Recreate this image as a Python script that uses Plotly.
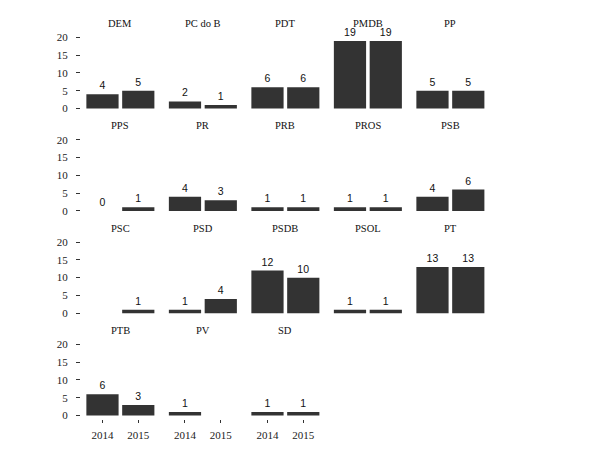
import plotly.graph_objects as go

parties = ["DEM", "PC do B", "PDT", "PMDB", "PP", "PPS", "PR", "PRB", "PROS", "PSB",
           "PSC", "PSD", "PSDB", "PSOL", "PT", "PTB", "PV", "SD"]
years = ["2014", "2015"]
v2014 = [4, 2, 6, 19, 5, 0, 4, 1, 1, 4, None, 1, 12, 1, 13, 6, 1, 1]
v2015 = [5, 1, 6, 19, 5, 1, 3, 1, 1, 6, 1, 4, 10, 1, 13, 3, None, 1]
yticks = [0, 5, 10, 15, 20]

W, H = 602, 453
NCOL = 5
row_zero = [106.7, 210.2, 313.7, 417.2]
px_per_unit = 3.6
yr = [-1, 21]
col_left0 = 81.0
col_pitch = 82.5
band = 35.8
xr = [-0.6, 1.6]

fig = go.Figure()
layout = dict(width=W, height=H, margin=dict(l=0, r=0, t=0, b=0),
              paper_bgcolor="white", plot_bgcolor="white", showlegend=False,
              bargap=0.1, annotations=[])

serif = "Liberation Serif"
for i, p in enumerate(parties):
    r, c = divmod(i, NCOL)
    k = i + 1
    xa = "x" if k == 1 else f"x{k}"
    ya = "y" if k == 1 else f"y{k}"
    left = col_left0 + col_pitch * c
    right = left + band * (xr[1] - xr[0])
    y0 = row_zero[r]
    bottom = y0 + (0 - yr[0]) * px_per_unit
    top = y0 - (yr[1]) * px_per_unit
    vals = [v2014[i], v2015[i]]
    txt = ["" if v is None else str(v) for v in vals]
    fig.add_trace(go.Bar(x=years, y=vals, text=txt, textposition="outside",
                         cliponaxis=False, constraintext="none",
                         textfont=dict(family="Liberation Sans", size=10.5, color="#111"),
                         marker=dict(color="#333333", line=dict(width=0)),
                         xaxis=xa, yaxis=ya, hoverinfo="skip"))
    bottom_row = (r == 3)
    layout["xaxis" if k == 1 else f"xaxis{k}"] = dict(
        domain=[left / W, right / W], anchor=ya, type="category",
        categoryorder="array", categoryarray=years, range=xr,
        showgrid=False, zeroline=False, showline=False,
        showticklabels=bottom_row, ticks="outside" if bottom_row else "",
        ticklen=3, tickcolor="#333", tickwidth=1, ticklabelstandoff=3,
        tickfont=dict(family=serif, size=11, color="#222"), fixedrange=True)
    first_col = (c == 0)
    layout["yaxis" if k == 1 else f"yaxis{k}"] = dict(
        domain=[1 - bottom / H, 1 - top / H], anchor=xa, range=yr,
        tickvals=yticks, showgrid=False, zeroline=False, showline=False,
        showticklabels=first_col, ticks="outside" if first_col else "",
        ticklen=4, tickcolor="#333", tickwidth=1, ticklabelstandoff=6,
        tickfont=dict(family=serif, size=11, color="#222"), fixedrange=True)
    layout["annotations"].append(dict(
        text=p, x=(left + right) / 2 / W, y=1 - (y0 - 86) / H,
        xref="paper", yref="paper", showarrow=False, xanchor="center", yanchor="middle",
        font=dict(family=serif, size=10.5, color="#111")))

fig.update_layout(**layout)
fig.write_html("out.html")
